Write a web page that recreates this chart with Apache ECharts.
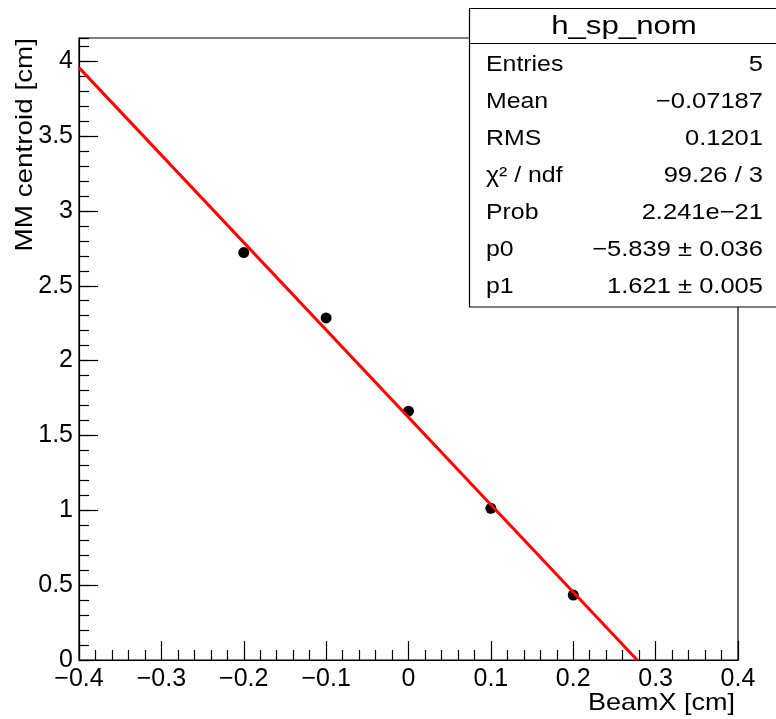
<!DOCTYPE html>
<html>
<head>
<meta charset="utf-8">
<script src="https://cdn.jsdelivr.net/npm/echarts@6/dist/echarts.min.js"></script>
<style>html,body{margin:0;padding:0;background:#fff;}#c{width:776px;height:719px;}</style>
</head>
<body>
<div id="c"></div>
<script>
// data
const beamX = [-0.2, -0.1, 0.0, 0.1, 0.2];
const centroid = [2.722, 2.285, 1.662, 1.013, 0.434];
// fit line end points (y = 1.621 - 5.839 x), clipped at y = 0
const fitX = [-0.4, 0.2776];
const fitY = [3.957, 0.0];
const statsTitle = 'h_sp_nom';
const statsNames = ['Entries', 'Mean', 'RMS', 'χ² / ndf', 'Prob', 'p0', 'p1'];
const statsValues = ['5', '−0.07187', '0.1201', '99.26 / 3', '2.241e−21', '−5.839 ± 0.036', '1.621 ± 0.005'];
const xTitle = 'BeamX [cm]';
const yTitle = 'MM centroid [cm]';

const FONT = '"Liberation Sans", Arial, sans-serif';
const chart = echarts.init(document.getElementById('c'), null, {renderer: 'canvas'});

function fmtNum(v) {
  const r = Math.round(v * 1000) / 1000;
  if (Math.abs(r) < 1e-9) return '0';
  return (r < 0 ? '−' : '') + String(Math.abs(r));
}

const graphics = [];
graphics.push({
  type: 'text', x: 13, y: 38, rotation: Math.PI / 2, scaleX: 1.16,
  style: {text: yTitle, font: '24px ' + FONT, fill: '#000',
    align: 'right', textAlign: 'right', verticalAlign: 'top', textVerticalAlign: 'top'}
});
graphics.push({
  type: 'text', x: 735, y: 703.5, scaleX: 1.125,
  style: {text: xTitle, font: '24px ' + FONT, fill: '#000',
    align: 'right', textAlign: 'right', verticalAlign: 'middle', textVerticalAlign: 'middle'}
});
graphics.push({
  type: 'rect', shape: {x: 469.5, y: 8.5, width: 330, height: 298.5},
  style: {fill: '#fff', stroke: '#000', lineWidth: 1.2}, z: 10
});
graphics.push({
  type: 'line', shape: {x1: 469.5, y1: 43.5, x2: 800, y2: 43.5},
  style: {stroke: '#000', lineWidth: 1.2}, z: 11
});
graphics.push({
  type: 'text', x: 624, y: 27, scaleX: 1.2, z: 12,
  style: {text: statsTitle, font: '26px ' + FONT, fill: '#000',
    align: 'center', textAlign: 'center', verticalAlign: 'middle', textVerticalAlign: 'middle'}
});
statsNames.forEach(function (n, i) {
  const yMid = 73 + 37 * i - 7.7;
  graphics.push({
    type: 'text', x: 486, y: yMid, scaleX: 1.13, z: 12,
    style: {text: n, font: '22px ' + FONT, fill: '#000',
      align: 'left', textAlign: 'left', verticalAlign: 'middle', textVerticalAlign: 'middle'}
  });
  graphics.push({
    type: 'text', x: 763, y: yMid, scaleX: 1.16, z: 12,
    style: {text: statsValues[i], font: '22px ' + FONT, fill: '#000',
      align: 'right', textAlign: 'right', verticalAlign: 'middle', textVerticalAlign: 'middle'}
  });
});

const option = {
  animation: false,
  backgroundColor: '#fff',
  grid: {left: 79, right: 38, top: 38, bottom: 59, show: true, borderColor: '#000', borderWidth: 1.2, backgroundColor: 'transparent'},
  xAxis: [{
    type: 'value', min: -0.4, max: 0.4, interval: 0.1,
    axisLine: {show: true, onZero: false, lineStyle: {color: '#000', width: 1.2}},
    axisTick: {show: true, inside: true, length: 19, lineStyle: {color: '#000', width: 1.2}},
    minorTick: {show: true, splitNumber: 5, length: 10, lineStyle: {color: '#000', width: 1.2}},
    splitLine: {show: false},
    axisLabel: {show: true, margin: 7, color: '#000', fontSize: 25, fontFamily: FONT, formatter: fmtNum}
  }],
  yAxis: [{
    type: 'value', min: 0, max: 4.155, interval: 0.5, position: 'left',
    axisLine: {show: true, onZero: false, lineStyle: {color: '#000', width: 1.2}},
    axisTick: {show: true, inside: true, length: 19, lineStyle: {color: '#000', width: 1.2}},
    splitLine: {show: false},
    axisLabel: {show: true, margin: 6, color: '#000', fontSize: 25, fontFamily: FONT, showMaxLabel: false,
      formatter: function (v) { return Math.abs(v * 2 - Math.round(v * 2)) < 1e-6 ? fmtNum(v) : ''; }}
  }, {
    type: 'value', min: 0, max: 4.155, interval: 0.1, position: 'left', offset: 0,
    axisLine: {show: false, onZero: false},
    axisTick: {show: true, inside: true, length: 10, lineStyle: {color: '#000', width: 1.2}},
    splitLine: {show: false},
    axisLabel: {show: false}
  }],
  series: [{
    type: 'scatter', xAxisIndex: 0, yAxisIndex: 0,
    data: beamX.map(function (x, i) { return [x, centroid[i]]; }),
    symbol: 'circle', symbolSize: 11,
    itemStyle: {color: '#000', opacity: 1}, z: 3, silent: true
  }, {
    type: 'line', xAxisIndex: 0, yAxisIndex: 0,
    data: fitX.map(function (x, i) { return [x, fitY[i]]; }),
    symbol: 'none', lineStyle: {color: '#ff0000', width: 3}, z: 4, silent: true
  }],
  graphic: graphics
};
chart.setOption(option);
</script>
</body>
</html>
